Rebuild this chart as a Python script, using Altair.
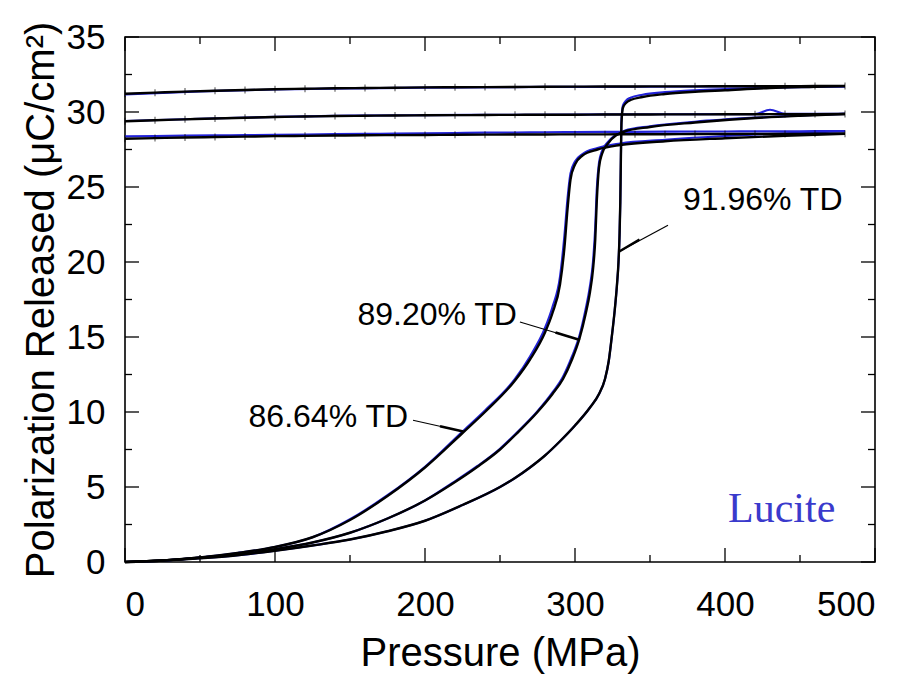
import altair as alt
import pandas as pd

# ---------------- values ----------------
# black fitted curves, loading branch (pressure MPa, polarization uC/cm2)
A_load_p = [0, 25, 50, 75, 100, 125, 150, 175, 200, 225, 240, 260, 270, 280, 285, 290, 293, 295, 297, 300, 305, 315, 330, 360, 400, 440, 480]
A_load_P = [0, 0.1, 0.3, 0.6, 1.0, 1.65, 2.8, 4.4, 6.3, 8.6, 10.0, 12.1, 13.5, 15.3, 16.6, 18.5, 21.0, 23.5, 25.5, 26.5, 27.1, 27.5, 27.8, 28.05, 28.25, 28.42, 28.55]

B_load_p = [0, 25, 50, 75, 100, 125, 150, 175, 200, 218, 235, 250, 261, 275, 285, 292, 298, 303, 307, 310, 312, 313.5, 314.5, 316, 318, 322, 333, 350, 380, 420, 450, 480]
B_load_P = [0, 0.1, 0.3, 0.5, 0.85, 1.3, 1.95, 2.9, 4.1, 5.2, 6.35, 7.5, 8.55, 10.0, 11.2, 12.2, 13.5, 14.9, 16.5, 18.0, 19.5, 21.5, 24.0, 26.3, 27.2, 27.9, 28.7, 29.0, 29.3, 29.6, 29.75, 29.87]

C_load_p = [0, 25, 50, 75, 100, 125, 150, 175, 200, 225, 250, 260, 270, 280, 290, 300, 310, 316, 320, 322.5, 324.5, 326.5, 328, 329, 329.7, 330.2, 330.6, 331, 332, 334, 337, 345, 360, 380, 400, 430, 460, 480]
C_load_P = [0, 0.1, 0.25, 0.45, 0.75, 1.1, 1.5, 2.05, 2.75, 3.8, 5.0, 5.6, 6.3, 7.1, 8.05, 9.1, 10.3, 11.2, 12.2, 13.4, 15.0, 16.8, 18.5, 20.0, 21.8, 24.0, 27.0, 29.3, 30.3, 30.6, 30.8, 31.0, 31.2, 31.35, 31.45, 31.6, 31.68, 31.73]

# black fitted curves, release branch
ret_p = [480, 460, 440, 420, 400, 380, 360, 340, 320, 300, 280, 260, 240, 220, 200, 180, 160, 140, 120, 100, 80, 60, 40, 20, 0]
A_ret_P = [28.55, 28.55, 28.54, 28.54, 28.53, 28.53, 28.52, 28.52, 28.51, 28.51, 28.5, 28.5, 28.49, 28.48, 28.47, 28.46, 28.45, 28.43, 28.41, 28.39, 28.36, 28.33, 28.3, 28.26, 28.22]
B_ret_P = [29.87, 29.86, 29.86, 29.85, 29.85, 29.84, 29.84, 29.83, 29.83, 29.82, 29.82, 29.81, 29.8, 29.79, 29.78, 29.77, 29.75, 29.73, 29.7, 29.67, 29.62, 29.57, 29.51, 29.45, 29.38]
C_ret_P = [31.73, 31.73, 31.72, 31.72, 31.72, 31.71, 31.71, 31.7, 31.7, 31.69, 31.68, 31.67, 31.66, 31.65, 31.64, 31.62, 31.6, 31.58, 31.55, 31.52, 31.47, 31.42, 31.36, 31.29, 31.22]

# blue measured data (loading sampled at the same pressures as the fits)
A_blue_P = [0, 0.1, 0.3, 0.6, 1.0, 1.65, 2.85, 4.45, 6.35, 8.7, 10.1, 12.2, 13.7, 15.6, 17.0, 19.0, 21.8, 24.2, 25.9, 26.7, 27.2, 27.6, 27.9, 28.15, 28.4, 28.58, 28.72]
A_blue_ret_P = [28.72, 28.72, 28.71, 28.71, 28.7, 28.7, 28.69, 28.68, 28.67, 28.66, 28.65, 28.63, 28.62, 28.6, 28.58, 28.56, 28.54, 28.52, 28.5, 28.48, 28.46, 28.44, 28.42, 28.4, 28.38]

B_blue_P = [0, 0.1, 0.3, 0.5, 0.85, 1.3, 1.95, 2.9, 4.1, 5.25, 6.4, 7.55, 8.6, 10.05, 11.3, 12.35, 13.7, 15.1, 16.8, 18.4, 20.0, 22.3, 24.8, 26.6, 27.4, 28.0, 28.75, 29.05, 29.35, 29.62, 29.77, 29.88]
B_blue_ret_p = [480, 450, 440, 430, 420, 400, 350, 300, 250, 200, 150, 100, 50, 0]
B_blue_ret_P = [29.88, 29.87, 29.87, 30.15, 29.86, 29.86, 29.85, 29.83, 29.81, 29.79, 29.76, 29.68, 29.55, 29.4]

C_blue_P = [0, 0.1, 0.25, 0.45, 0.75, 1.1, 1.5, 2.05, 2.75, 3.8, 5.0, 5.6, 6.3, 7.1, 8.05, 9.1, 10.3, 11.2, 12.2, 13.4, 15.0, 16.8, 18.5, 20.0, 21.8, 24.0, 27.0, 29.5, 30.45, 30.75, 30.95, 31.15, 31.32, 31.45, 31.53, 31.62, 31.68, 31.7]
C_blue_ret_p = [480, 400, 300, 200, 150, 100, 50, 0]
C_blue_ret_P = [31.7, 31.7, 31.68, 31.63, 31.57, 31.5, 31.38, 31.17]

# annotations
label_text = ["86.64% TD", "89.20% TD", "91.96% TD"]
label_x = [188.7, 261.3, 372.0]
label_y = [9.0, 15.8, 23.45]
label_align = ["right", "right", "left"]
lead_x1 = [192.0, 263.3, 362.0]
lead_y1 = [9.45, 16.0, 22.45]
lead_xm = [210.0, 287.0, 343.0]
lead_ym = [9.05, 15.3, 21.5]
lead_x2 = [225.5, 303.3, 329.5]
lead_y2 = [8.7, 14.8, 20.7]

x_major = [0, 100, 200, 300, 400, 500]
x_minor = [50, 150, 250, 350, 450]
y_major = [0, 5, 10, 15, 20, 25, 30, 35]
y_minor = [2.5, 7.5, 12.5, 17.5, 22.5, 27.5, 32.5]

W, H = 750, 525
BLUE = "#2323d8"
FONT = "Liberation Sans"


def branch(name, ps, Ps):
    return [{"s": name, "p": a, "P": b} for a, b in zip(ps, Ps)]


black = pd.DataFrame(branch("A_l", A_load_p, A_load_P) + branch("A_r", ret_p, A_ret_P)
                     + branch("B_l", B_load_p, B_load_P) + branch("B_r", ret_p, B_ret_P)
                     + branch("C_l", C_load_p, C_load_P) + branch("C_r", ret_p, C_ret_P))
blue = pd.DataFrame(branch("A_l", A_load_p, A_blue_P) + branch("A_r", ret_p, A_blue_ret_P)
                    + branch("B_l", B_load_p, B_blue_P) + branch("B_r", B_blue_ret_p, B_blue_ret_P)
                    + branch("C_l", C_load_p, C_blue_P) + branch("C_r", C_blue_ret_p, C_blue_ret_P))
marks = pd.DataFrame({"p": ret_p * 3, "P": A_ret_P + B_ret_P + C_ret_P})

xs = alt.Scale(domain=[0, 500], nice=False)
ys = alt.Scale(domain=[0, 35], nice=False)

X = alt.X("p:Q", scale=xs, title="Pressure (MPa)",
          axis=alt.Axis(values=x_major, format="d", ticks=False, domain=False, grid=False,
                        labelFontSize=35, labelPadding=25, labelFont=FONT, labelColor="black",
                        titleFontSize=40, titleFont=FONT, titleFontWeight="normal", titleColor="black",
                        titleBaseline="alphabetic", titleY=103))
Y = alt.Y("P:Q", scale=ys, title="Polarization Released (μC/cm²)",
          axis=alt.Axis(values=y_major, format="d", ticks=False, domain=False, grid=False,
                        labelFontSize=35, labelPadding=20, labelFont=FONT, labelColor="black",
                        titleFontSize=40, titleFont=FONT, titleFontWeight="normal", titleColor="black",
                        titleBaseline="alphabetic", titleX=-72))

blue_layer = alt.Chart(blue).mark_line(color=BLUE, strokeWidth=2.2, interpolate="monotone").encode(
    x=X, y=Y, detail="s:N", order="p:Q")
black_layer = alt.Chart(black).mark_line(color="black", strokeWidth=2.4, interpolate="monotone").encode(
    x=alt.X("p:Q", scale=xs), y=alt.Y("P:Q", scale=ys), detail="s:N", order="p:Q")
tick_layer = alt.Chart(marks).mark_tick(orient="vertical", color="black", size=7, thickness=1).encode(
    x=alt.X("p:Q", scale=xs), y=alt.Y("P:Q", scale=ys))

# inner ticks on all four sides
xmaj = pd.DataFrame({"v": x_major})
xmin = pd.DataFrame({"v": x_minor})
ymaj = pd.DataFrame({"v": y_major})
ymin = pd.DataFrame({"v": y_minor})
tick_layers = []
for df, L in ((xmaj, 14), (xmin, 7)):
    tick_layers.append(alt.Chart(df).mark_rule(color="black", strokeWidth=1.3).encode(
        x=alt.X("v:Q", scale=xs), y=alt.value(H), y2=alt.value(H - L)))
    tick_layers.append(alt.Chart(df).mark_rule(color="black", strokeWidth=1.3).encode(
        x=alt.X("v:Q", scale=xs), y=alt.value(0), y2=alt.value(L)))
for df, L in ((ymaj, 14), (ymin, 7)):
    tick_layers.append(alt.Chart(df).mark_rule(color="black", strokeWidth=1.3).encode(
        y=alt.Y("v:Q", scale=ys), x=alt.value(0), x2=alt.value(L)))
    tick_layers.append(alt.Chart(df).mark_rule(color="black", strokeWidth=1.3).encode(
        y=alt.Y("v:Q", scale=ys), x=alt.value(W), x2=alt.value(W - L)))

lab = pd.DataFrame({"t": label_text, "x": label_x, "y": label_y, "a": label_align,
                    "x1": lead_x1, "y1": lead_y1, "xm": lead_xm, "ym": lead_ym,
                    "x2": lead_x2, "y2": lead_y2})
text_r = alt.Chart(lab[lab.a == "right"]).mark_text(
    align="right", baseline="alphabetic", fontSize=32, font=FONT, color="black").encode(
    x=alt.X("x:Q", scale=xs), y=alt.Y("y:Q", scale=ys), text="t:N")
text_l = alt.Chart(lab[lab.a == "left"]).mark_text(
    align="left", baseline="alphabetic", fontSize=32, font=FONT, color="black").encode(
    x=alt.X("x:Q", scale=xs), y=alt.Y("y:Q", scale=ys), text="t:N")
lead = alt.Chart(lab).mark_rule(color="black", strokeWidth=1.2).encode(
    x=alt.X("x1:Q", scale=xs), y=alt.Y("y1:Q", scale=ys), x2="x2:Q", y2="y2:Q")
lead_head = alt.Chart(lab).mark_rule(color="black", strokeWidth=2.6).encode(
    x=alt.X("xm:Q", scale=xs), y=alt.Y("ym:Q", scale=ys), x2="x2:Q", y2="y2:Q")

lucite = alt.Chart(pd.DataFrame({"x": [402.0], "y": [2.67], "t": ["Lucite"]})).mark_text(
    align="left", baseline="alphabetic", fontSize=42, font="Liberation Serif", color="#3a3acc").encode(
    x=alt.X("x:Q", scale=xs), y=alt.Y("y:Q", scale=ys), text="t:N")

chart = alt.layer(blue_layer, black_layer, tick_layer, *tick_layers, lead, lead_head,
                  text_r, text_l, lucite).properties(
    width=W, height=H,
    autosize=alt.AutoSizeParams(type="none"),
    padding={"left": 125, "top": 37, "right": 36, "bottom": 114},
    background="white",
).configure_view(stroke="black", strokeWidth=1.6)

chart.save("out.html", embed_options={"renderer": "svg", "actions": False})
